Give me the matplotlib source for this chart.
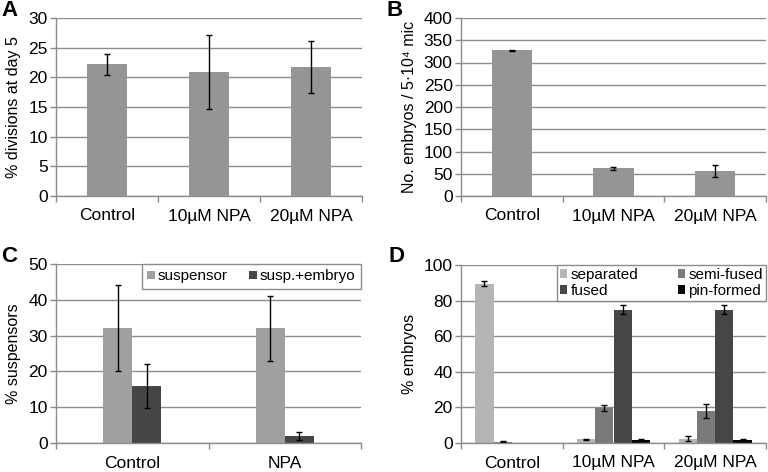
import numpy as np
import matplotlib.pyplot as plt

plt.rcParams['font.family'] = ['Liberation Sans', 'DejaVu Sans']
plt.rcParams['font.size'] = 11

# -----------------------------
# Data
# -----------------------------
groups_3 = ["Control", "10µM NPA", "20µM NPA"]
groups_2 = ["Control", "NPA"]

div_mean = [22.2, 20.9, 21.7]
div_err = [1.8, 6.3, 4.4]

emb_mean = [327, 62, 56]
emb_err = [1, 4, 13]

susp_names = ["suspensor", "susp.+embryo"]
susp_mean = [[32, 32], [16, 2]]
susp_err = [[12, 9], [6.2, 1.2]]

type_names = ["separated", "semi-fused", "fused", "pin-formed"]
type_mean = [[89.5, 2.2, 2.5],
             [0.6, 19.5, 18],
             [0, 75, 75],
             [0, 1.5, 1.5]]
# no error bar drawn where nothing was counted
type_err = [[1.5, 0.3, 1.5],
            [0.3, 1.8, 4.0],
            [np.nan, 2.7, 2.5],
            [np.nan, 0.5, 0.7]]

GRID = "#8c8c8c"
MAIN = "#959595"
SUSP_COLORS = ["#a0a0a0", "#454545"]
TYPE_COLORS = ["#b5b5b5", "#7a7a7a", "#464646", "#050505"]

W, H = 768, 472
fig = plt.figure(figsize=(W / 100, H / 100), dpi=100)


def make_ax(left, top, right, bottom):
    return fig.add_axes([left / W, 1 - bottom / H, (right - left) / W, (bottom - top) / H])


def style_ax(ax, n, ymax, step, ylabel):
    ax.set_xlim(-0.5, n - 0.5)
    ax.set_ylim(0, ymax)
    ax.set_yticks(np.arange(0, ymax + step / 2, step))
    ax.set_xticks(range(n))
    ax.set_xticks(np.arange(-0.5, n, 1.0), minor=True)
    ax.tick_params(axis="x", which="major", length=0, pad=9, labelsize=12.5)
    ax.tick_params(axis="x", which="minor", length=4, color=GRID, width=1)
    ax.tick_params(axis="y", length=4, color=GRID, width=1, pad=2, labelsize=12.5)
    for s in ["top", "right"]:
        ax.spines[s].set_visible(False)
    for s in ["left", "bottom"]:
        ax.spines[s].set_color(GRID)
        ax.spines[s].set_linewidth(1)
    ax.yaxis.grid(True, color=GRID, linewidth=1)
    ax.set_axisbelow(True)
    ax.set_ylabel(ylabel, fontsize=11.5, labelpad=5)


ebar = dict(ecolor="black", elinewidth=1, capsize=2.5, capthick=1)

# -----------------------------
# A
# -----------------------------
axA = make_ax(56, 18, 362, 196)
x = np.arange(3)
axA.bar(x, div_mean, 0.4, yerr=div_err, color=MAIN, error_kw=ebar)
style_ax(axA, 3, 30, 5, "% divisions at day 5")
axA.set_xticklabels(groups_3)

# -----------------------------
# B
# -----------------------------
axB = make_ax(461, 18, 766, 196)
axB.bar(x, emb_mean, 0.4, yerr=emb_err, color=MAIN, error_kw=ebar)
style_ax(axB, 3, 400, 50, "No. embryos / 5·10⁴ mic")
axB.set_xticklabels(groups_3)

# -----------------------------
# C
# -----------------------------
axC = make_ax(56, 264, 361, 443)
x2 = np.arange(2)
w = 0.19
for i, name in enumerate(susp_names):
    axC.bar(x2 + (i - 0.5) * w, susp_mean[i], w, yerr=susp_err[i],
            color=SUSP_COLORS[i], label=name, error_kw=ebar)
style_ax(axC, 2, 50, 10, "% suspensors")
axC.set_xticklabels(groups_2)
legC = axC.legend(loc="upper right", bbox_to_anchor=(1.0, 1.0), borderaxespad=0,
                  ncol=2, fancybox=False, edgecolor=GRID, framealpha=1,
                  handlelength=0.5, handleheight=0.5, handletextpad=0.2,
                  columnspacing=1.4, fontsize=11, borderpad=0.35)
legC.get_frame().set_linewidth(1)

# -----------------------------
# D
# -----------------------------
axD = make_ax(461, 265, 766, 443)
w = 0.18
bars = []
for i, name in enumerate(type_names):
    b = axD.bar(x + (i - 1.5) * w, type_mean[i], w, yerr=type_err[i],
                color=TYPE_COLORS[i], label=name, error_kw=ebar)
    bars.append(b)
style_ax(axD, 3, 100, 20, "% embryos")
axD.set_xticklabels(groups_3)
order = [0, 2, 1, 3]
legD = axD.legend([bars[k] for k in order], [type_names[k] for k in order],
                  loc="upper right", bbox_to_anchor=(1.0, 1.0), borderaxespad=0,
                  ncol=2, fancybox=False, edgecolor=GRID, framealpha=1,
                  handlelength=0.5, handleheight=0.5, handletextpad=0.2,
                  columnspacing=2.6, fontsize=11, borderpad=0.2, labelspacing=0.1)
legD.get_frame().set_linewidth(1)

# -----------------------------
# Panel letters
# -----------------------------
for lab, px, py in [("A", 1, 10), ("B", 386, 10), ("C", 1, 256), ("D", 388, 257)]:
    fig.text(px / W, 1 - py / H, lab, fontsize=16, fontweight="bold", va="center", ha="left")

fig.savefig("out.png", dpi=100)
